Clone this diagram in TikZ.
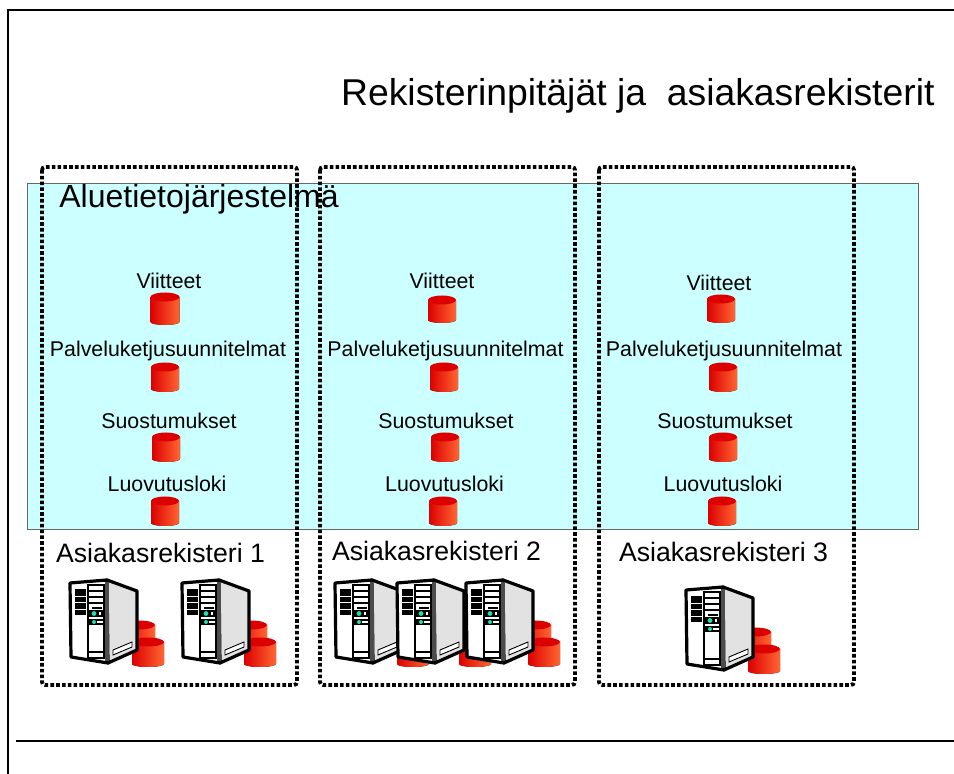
\documentclass[tikz,border=0pt]{standalone}
\usepackage{fontspec}
\setmainfont{Liberation Sans}
\definecolor{alue}{HTML}{CCFFFF}
\definecolor{tumma}{HTML}{DD0000}
\definecolor{vaalea}{HTML}{FF6633}
\definecolor{kylki}{HTML}{E2E2E2}
\definecolor{valo}{HTML}{22DDB0}
\tikzset{
    rekisteri/.style={draw=black,line width=1.9pt,dash pattern=on 1.8pt off 1.1pt,rounded corners=1.5pt},
    pics/kanta/.style 2 args={code={
        \fill[left color=tumma,right color=vaalea] (-#1,0) -- (-#1,#2) arc[start angle=180,end angle=0,x radius=#1,y radius=3] -- (#1,0) -- cycle;
        \fill[tumma] (0,0) ellipse[x radius=#1,y radius=4.5];
    }},
    pics/palvelin/.style={code={
        \pic at (69,45) {kanta={16}{25}};
        \pic at (78,62) {kanta={16}{22}};
        \draw[fill=white,line width=1.6pt,line join=round] (0,3) -- (37,0) -- (38,83) -- (1,77) -- cycle;
        \draw[fill=kylki,line width=1.6pt,line join=round] (37,0) -- (67,11) -- (67,70) -- (38,83) -- cycle;
        \fill[black!70] (35,2) rectangle (38.5,81);
        \draw[fill=white,line width=0.45pt] (43,70) -- (62,62) -- (62,67) -- (43,75) -- cycle;
        % vents
        \fill (5,9) rectangle (16,35);
        \draw[white,line width=0.15pt] (5,16) -- (16,16) (5,22) -- (16,22) (5,29) -- (16,29);
        % bays
        \draw[line width=0.6pt] (18,5) rectangle (34,78);
        \draw[line width=0.6pt] (18,11) -- (34,11) (18,17) -- (34,17) (18,23) -- (34,23);
        \fill (22,27) rectangle (32,29);
        \fill (19,30) rectangle (34,37);
        \fill[white] (29,32) rectangle (31,35);
        \fill[valo] (24,33.5) circle (2.4);
        \fill (19,39) rectangle (34,45);
        \fill[white] (27,41) rectangle (33,43);
        \fill[valo] (24,42) circle (2);
        \draw[line width=0.6pt] (18,72) -- (34,72);
    }}
}
\begin{document}
\begin{tikzpicture}[x=0.5pt,y=-0.5pt]
\useasboundingbox (0,0) rectangle (954,774);
% frame
\coordinate (fa) at (954,10.5);
\coordinate (fb) at (8,10.5);
\coordinate (fc) at (8,774);
\coordinate (la) at (16,741);
\coordinate (lb) at (954,741);
\draw[line width=1pt] (fa) -- (fb) -- (fc);
\draw[line width=0.6pt] (la) -- (lb);
% area
\path[fill=alue,draw=black!60,line width=0.5pt] (27.5,184) rectangle (918,530);
% registers
\draw[rekisteri] (42,167) rectangle (297,685);
\draw[rekisteri] (320,167) rectangle (575,685);
\draw[rekisteri] (599,167) rectangle (854,685);

\node[anchor=east,inner sep=0pt,font=\fontsize{18.67}{20}\selectfont] (t) at (935,96) {Rekisterinpitäjät ja\ \ asiakasrekisterit};
\node[anchor=west,inner sep=0pt,font=\fontsize{16}{18}\selectfont] (j) at (59,199.5) {Aluetietojärjestelmä};

\begin{scope}[every node/.style={font=\fontsize{10.67}{12}\selectfont}]
    \node (a1) at (169,281) {Viitteet};
    \node (b1) at (168,351) {Palveluketjusuunnitelmat};
    \node (c1) at (169,421) {Suostumukset};
    \node (d1) at (167,484) {Luovutusloki};
    \node (a2) at (442,281) {Viitteet};
    \node (b2) at (445.5,351) {Palveluketjusuunnitelmat};
    \node (c2) at (446,421) {Suostumukset};
    \node (d2) at (444.5,484) {Luovutusloki};
    \node (a3) at (719,283) {Viitteet};
    \node (b3) at (724,351) {Palveluketjusuunnitelmat};
    \node (c3) at (725,421) {Suostumukset};
    \node (d3) at (723,484) {Luovutusloki};
\end{scope}
\begin{scope}[every node/.style={font=\fontsize{13.33}{15}\selectfont}]
    \node (r1) at (160.5,553) {Asiakasrekisteri 1};
    \node (r2) at (436.5,551) {Asiakasrekisteri 2};
    \node (r3) at (723.5,552) {Asiakasrekisteri 3};
\end{scope}

% small stores
\pic at (165,297) {kanta={14.5}{25}};
\pic at (165,367) {kanta={14}{22}};
\pic at (166,437) {kanta={14}{22}};
\pic at (165,501) {kanta={14}{22}};
\pic at (442,300) {kanta={14}{20}};
\pic at (444,367) {kanta={14}{22}};
\pic at (445,437) {kanta={14}{22}};
\pic at (443,501) {kanta={14}{22}};
\pic at (721,299) {kanta={14}{21}};
\pic at (723,367) {kanta={14}{22}};
\pic at (723,437) {kanta={14}{22}};
\pic at (722,501) {kanta={14}{22}};

% servers
\pic at (70,580) {palvelin};
\pic at (182,580) {palvelin};
\pic at (335,580) {palvelin};
\pic at (397,580) {palvelin};
\pic at (466,580) {palvelin};
\pic at (686,587) {palvelin};
\end{tikzpicture}
\end{document}
